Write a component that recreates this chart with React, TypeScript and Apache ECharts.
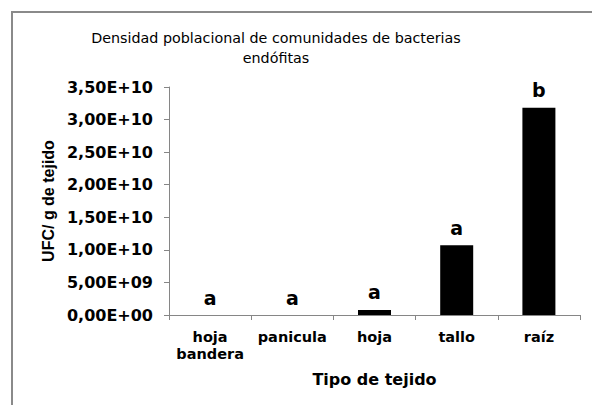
import React, { useEffect, useRef } from "react";
import * as echarts from "echarts";

const categories = ["hoja\nbandera", "panicula", "hoja", "tallo", "raíz"];
const ufcValues = [0, 0, 7.7e8, 1.07e10, 3.18e10];
const letters = ["a", "a", "a", "a", "b"];
const yMin = 0;
const yMax = 3.5e10;
const yInterval = 5e9;

const titleText = "Densidad poblacional de comunidades de bacterias\nendófitas";
const yName = "UFC/ g de tejido";
const xName = "Tipo de tejido";

function sci(v: number): string {
  if (v === 0) return "0,00E+00";
  const e = Math.floor(Math.log10(Math.abs(v)) + 1e-9);
  const m = v / Math.pow(10, e);
  const es = (e < 0 ? "-" : "+") + String(Math.abs(e)).padStart(2, "0");
  return m.toFixed(2).replace(".", ",") + "E" + es;
}

const FONT = "DejaVu Sans";
const ARIAL = "Liberation Sans, Arial, sans-serif";
const AXIS_GRAY = "#868686";

export default function App() {
  const ref = useRef<HTMLDivElement>(null);
  useEffect(() => {
    document.body.style.margin = "0";
    if (!ref.current) return;
    const chart = echarts.init(ref.current, undefined, { renderer: "svg" });
    chart.setOption({
      animation: false,
      backgroundColor: "#ffffff",
      title: {
        text: titleText,
        left: 271,
        top: 23,
        textAlign: "center",
        textStyle: {
          fontFamily: FONT,
          fontSize: 14.3,
          fontWeight: "normal",
          color: "#000",
          lineHeight: 20,
        },
      },
      graphic: [
        {
          type: "rect",
          shape: { x: 12, y: 12, width: 700, height: 500 },
          style: { fill: "none", stroke: "#8a8a8a", lineWidth: 2 },
          silent: true,
        },
      ],
      grid: { left: 169, right: 12, top: 87, bottom: 90, containLabel: false },
      xAxis: {
        type: "category",
        data: categories,
        name: xName,
        nameLocation: "middle",
        nameGap: 56,
        nameTextStyle: { fontFamily: FONT, fontSize: 16, fontWeight: "bold", color: "#000" },
        axisLine: { lineStyle: { color: AXIS_GRAY, width: 1 } },
        axisTick: { show: true, length: 5, lineStyle: { color: AXIS_GRAY } },
        axisLabel: {
          fontFamily: FONT,
          fontSize: 14.5,
          fontWeight: "bold",
          color: "#000",
          margin: 13,
          lineHeight: 17,
          interval: 0,
        },
        splitLine: { show: false },
      },
      yAxis: {
        type: "value",
        min: yMin,
        max: yMax,
        interval: yInterval,
        name: yName,
        nameLocation: "middle",
        nameGap: 106,
        nameTextStyle: { fontFamily: ARIAL, fontSize: 16, fontWeight: "bold", color: "#000" },
        axisLine: { show: true, lineStyle: { color: AXIS_GRAY, width: 1 } },
        axisTick: { show: true, length: 5, lineStyle: { color: AXIS_GRAY } },
        axisLabel: {
          fontFamily: FONT,
          fontSize: 16,
          fontWeight: "bold",
          color: "#000",
          margin: 16,
          formatter: (v: number) => sci(v),
        },
        splitLine: { show: false },
      },
      series: [
        {
          type: "bar",
          data: ufcValues,
          barWidth: 33,
          itemStyle: { color: "#000000" },
          label: {
            show: true,
            position: "top",
            distance: 8,
            fontFamily: FONT,
            fontSize: 19,
            fontWeight: "bold",
            color: "#000",
            formatter: (p: any) => letters[p.dataIndex],
          },
        },
      ],
    });
    return () => chart.dispose();
  }, []);
  return <div ref={ref} style={{ width: 592, height: 405 }} />;
}
